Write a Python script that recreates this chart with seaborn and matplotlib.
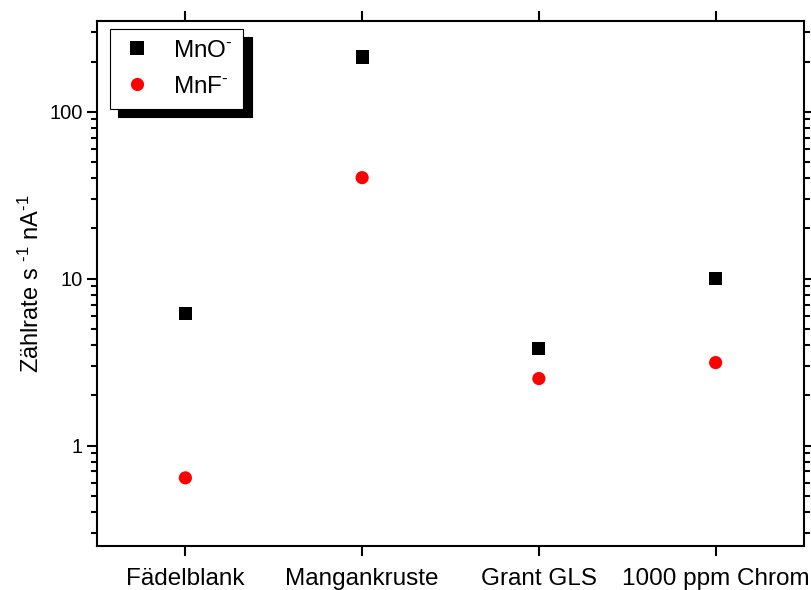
import matplotlib
matplotlib.use("Agg")
import matplotlib.pyplot as plt
from matplotlib.ticker import LogLocator, NullFormatter, FixedLocator
import seaborn as sns
import pandas as pd

# Count rates per sample (counts s^-1 nA^-1)
samples = ["Fädelblank", "Mangankruste", "Grant GLS", "1000 ppm Chrom"]
mno = [6.2, 213, 3.8, 10.0]
mnf = [0.64, 40.3, 2.52, 3.14]
series = ["MnO$^{\\text{-}}$", "MnF$^{\\text{-}}$"]

df = pd.DataFrame({
    "Probe": samples * 2,
    "Rate": mno + mnf,
    "Ion": [series[0]] * len(samples) + [series[1]] * len(samples),
})

sns.set_theme(style="ticks")
plt.rcParams["font.family"] = ["Liberation Sans", "DejaVu Sans"]
plt.rcParams["mathtext.fontset"] = "custom"
plt.rcParams["mathtext.rm"] = "Liberation Sans"
plt.rcParams["mathtext.sf"] = "Liberation Sans"
plt.rcParams["mathtext.it"] = "Liberation Sans"
for key in ["text.color", "axes.labelcolor", "xtick.color", "ytick.color",
            "xtick.labelcolor", "ytick.labelcolor"]:
    plt.rcParams[key] = "black"

fig = plt.figure(figsize=(8.11, 5.90), dpi=100)
ax = fig.add_axes([0.1196, 0.0746, 0.8718, 0.8898])

sns.scatterplot(
    data=df, x="Probe", y="Rate", hue="Ion", style="Ion",
    palette={series[0]: "black", series[1]: "#ff0000"},
    markers={series[0]: "s", series[1]: "o"},
    s=90, linewidth=0, ax=ax, legend=True,
)

ax.set_yscale("log")
ax.set_ylim(0.25, 350)
ax.set_xlim(-0.5, 3.5)
ax.set_xlabel("")
ax.set_ylabel("Zählrate s $^{\\text{-1}}$ nA$^{\\text{-1}}$", fontsize=17, labelpad=4)

ax.yaxis.set_major_locator(FixedLocator([1, 10, 100]))
ax.set_yticklabels(["1", "10", "100"])
ax.yaxis.set_minor_locator(LogLocator(base=10, subs=range(2, 10), numticks=20))
ax.yaxis.set_minor_formatter(NullFormatter())

for side in ["top", "right", "bottom", "left"]:
    ax.spines[side].set_linewidth(1.5)
    ax.spines[side].set_color("black")

ax.tick_params(axis="y", which="major", direction="out", length=7, width=1.5,
               labelsize=14.5, left=True, right=True, labelright=False)
ax.tick_params(axis="y", which="minor", direction="out", length=4, width=1.5,
               left=True, right=True)
ax.tick_params(axis="x", which="major", direction="out", length=7, width=1.5,
               labelsize=17.5, top=True, bottom=True, labeltop=False, pad=9)

leg = ax.legend(
    loc="upper left", bbox_to_anchor=(0.018, 0.985), borderaxespad=0,
    frameon=True, fancybox=False, edgecolor="black", framealpha=1,
    fontsize=17.5, markerscale=1.0,
    handletextpad=0.8, borderpad=0.45, labelspacing=0.58, handlelength=1.34,
    shadow={"color": "black", "alpha": 1.0, "ox": 6, "oy": -6},
)
leg.get_frame().set_linewidth(0.8)

fig.savefig("out.png", dpi=100)
